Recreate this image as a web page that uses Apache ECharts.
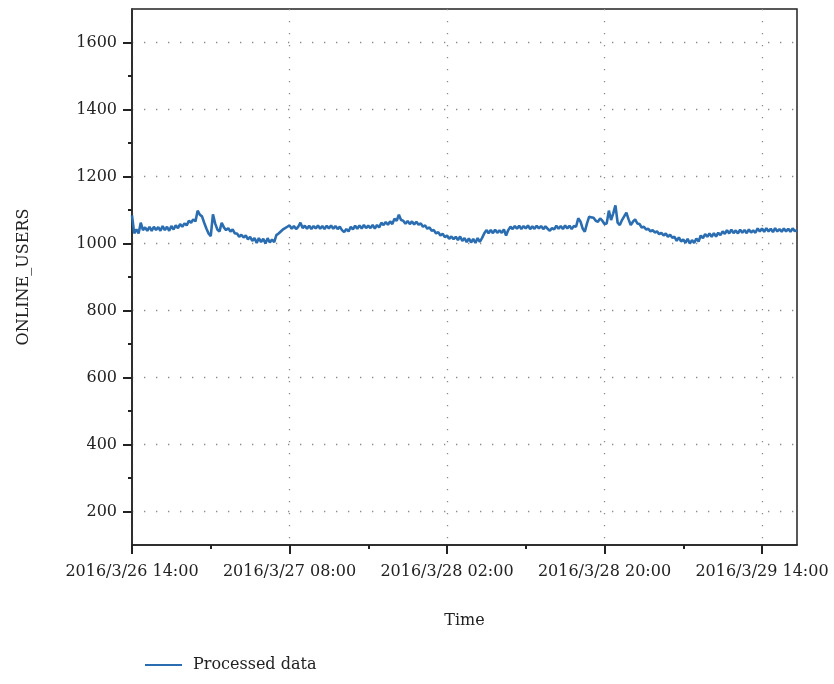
<!DOCTYPE html>
<html>
<head>
<meta charset="utf-8">
<title>ONLINE_USERS</title>
<script src="https://cdn.jsdelivr.net/npm/echarts@6/dist/echarts.min.js"></script>
<style>
  html, body { margin: 0; padding: 0; background: #fff; }
  #chart { width: 834px; height: 684px; }
</style>
</head>
<body>
<div id="chart"></div>
<script>
// Sampling: one reading every 15 minutes, starting 2016/3/26 14:00
const startTime = [2016, 3, 26, 14, 0];
const stepHours = 0.25;
const spanHours = 76;

// Online user counts, four readings per hour
const onlineUsers = [
  1084,1030,1042,1030, 1062,1040,1048,1038, 1050,1038,1050,1040, 1049,1038,1052,1040,
  1050,1038,1052,1042, 1054,1046,1058,1050, 1060,1054,1068,1062, 1072,1066,1098,1086,
  1081,1062,1045,1030, 1022,1087,1060,1042, 1036,1062,1048,1040, 1046,1036,1042,1030,
  1030,1020,1026,1018, 1024,1012,1020,1008, 1016,1002,1016,1004, 1014,1000,1016,1003,
  1012,1004,1025,1030, 1036,1042,1046,1050, 1054,1044,1052,1043, 1050,1062,1046,1053,
  1044,1053,1043,1052, 1045,1054,1044,1052, 1043,1053,1045,1054, 1044,1052,1043,1050,
  1040,1034,1043,1036, 1050,1042,1053,1044, 1054,1045,1055,1046, 1053,1046,1055,1045,
  1055,1048,1062,1055, 1064,1056,1066,1058, 1074,1068,1086,1070, 1068,1059,1067,1058,
  1066,1057,1065,1056, 1060,1050,1054,1044, 1048,1038,1040,1030, 1034,1024,1029,1019,
  1024,1014,1021,1013, 1020,1010,1021,1008, 1016,1004,1015,1003, 1014,1002,1016,1005,
  1016,1030,1040,1031, 1040,1031,1041,1032, 1039,1032,1042,1024, 1040,1050,1043,1052,
  1044,1053,1043,1052, 1045,1054,1043,1051, 1044,1053,1045,1052, 1043,1051,1044,1038,
  1046,1042,1053,1044, 1052,1043,1054,1045, 1053,1043,1052,1050, 1075,1066,1045,1035,
  1060,1080,1078,1077, 1068,1065,1075,1068, 1058,1060,1098,1070, 1090,1114,1062,1055,
  1070,1081,1092,1072, 1055,1065,1072,1060, 1058,1048,1050,1042, 1044,1036,1040,1033,
  1036,1028,1032,1024, 1030,1020,1026,1017, 1020,1008,1018,1006, 1012,1002,1014,1000,
  1010,1002,1015,1006, 1024,1016,1028,1020, 1030,1020,1031,1021, 1032,1025,1036,1029,
  1040,1030,1041,1031, 1039,1030,1041,1032, 1040,1031,1042,1033, 1039,1032,1045,1036,
  1045,1035,1046,1036, 1044,1034,1046,1036, 1043,1035,1045,1036, 1044,1035,1045,1037,
  1040
];

// Time axis: labelled ticks (hours after start) and the short ticks between them
const xLabelHours = [0, 18, 36, 54, 72];
const xMinorHours = [9, 27, 45, 63];

// Value axis: labelled ticks and the short ticks between them
const yMin = 100;
const yMax = 1700;
const yLabelValues = [200, 400, 600, 800, 1000, 1200, 1400, 1600];
const yMinorValues = [300, 500, 700, 900, 1100, 1300, 1500];

const seriesName = 'Processed data';
const xTitle = 'Time';
const yTitle = 'ONLINE_USERS';

const points = onlineUsers.map((v, i) => [i * stepHours, v]);

const pad = n => (n < 10 ? '0' : '') + n;
function hourLabel(h) {
  const d = new Date(startTime[0], startTime[1] - 1, startTime[2], startTime[3], startTime[4]);
  d.setTime(d.getTime() + h * 3600000);
  return d.getFullYear() + '/' + (d.getMonth() + 1) + '/' + d.getDate() + ' ' +
         pad(d.getHours()) + ':' + pad(d.getMinutes());
}

const font = 'DejaVu Serif';
const ink = '#222';
const dotted = { color: '#8a8a8a', width: 1.3, type: [1.3, 10.7] };
const tickStyle = { color: ink, width: 2 };

const chart = echarts.init(document.getElementById('chart'), null, { renderer: 'canvas' });
chart.setOption({
  animation: false,
  backgroundColor: '#fff',
  grid: {
    left: 132, top: 9, right: 37, bottom: 139,
    show: true, borderColor: ink, borderWidth: 1.5, backgroundColor: 'transparent'
  },
  xAxis: [{
    type: 'value',
    min: 0, max: spanHours,
    name: xTitle, nameLocation: 'middle', nameGap: 68,
    nameTextStyle: { fontFamily: font, fontSize: 16, color: ink },
    axisLine: { show: true, lineStyle: { color: ink, width: 1.5 } },
    axisTick: { show: true, inside: false, length: 9, lineStyle: tickStyle, customValues: xLabelHours },
    axisLabel: { fontFamily: font, fontSize: 16, color: ink, margin: 19, formatter: hourLabel,
                 customValues: xLabelHours },
    splitLine: { show: true, lineStyle: dotted }
  }, {
    // short ticks half-way between the labelled ones
    type: 'value', position: 'bottom', offset: 0,
    min: 0, max: spanHours,
    axisLine: { show: false },
    axisTick: { show: true, inside: false, length: 4, lineStyle: tickStyle, customValues: xMinorHours },
    axisLabel: { show: false },
    splitLine: { show: false }
  }],
  yAxis: [{
    type: 'value',
    min: yMin, max: yMax,
    name: yTitle, nameLocation: 'middle', nameGap: 100, nameRotate: 90,
    nameTextStyle: { fontFamily: font, fontSize: 16, color: ink },
    axisLine: { show: true, lineStyle: { color: ink, width: 1.5 } },
    axisTick: { show: true, inside: false, length: 9, lineStyle: tickStyle, customValues: yLabelValues },
    axisLabel: { fontFamily: font, fontSize: 16, color: ink, margin: 15,
                 customValues: yLabelValues, formatter: v => String(v) },
    splitLine: { show: true, lineStyle: dotted }
  }, {
    // short ticks half-way between the labelled ones
    type: 'value', position: 'left', offset: 0,
    min: yMin, max: yMax,
    axisLine: { show: false },
    axisTick: { show: true, inside: false, length: 4, lineStyle: tickStyle, customValues: yMinorValues },
    axisLabel: { show: false },
    splitLine: { show: false }
  }],
  legend: {
    left: 140, top: 652, orient: 'horizontal',
    itemWidth: 37, itemHeight: 14,
    textStyle: { fontFamily: font, fontSize: 16, color: ink, padding: [0, 0, 0, 6] },
    data: [{ name: seriesName, icon: 'path://M0,6 L37,6 L37,8 L0,8 Z' }]
  },
  series: [{
    name: seriesName,
    type: 'line',
    data: points,
    showSymbol: false,
    symbol: 'none',
    sampling: false,
    lineStyle: { color: '#2b6db1', width: 2.6 },
    itemStyle: { color: '#2b6db1' },
    z: 3
  }]
});
</script>
</body>
</html>
